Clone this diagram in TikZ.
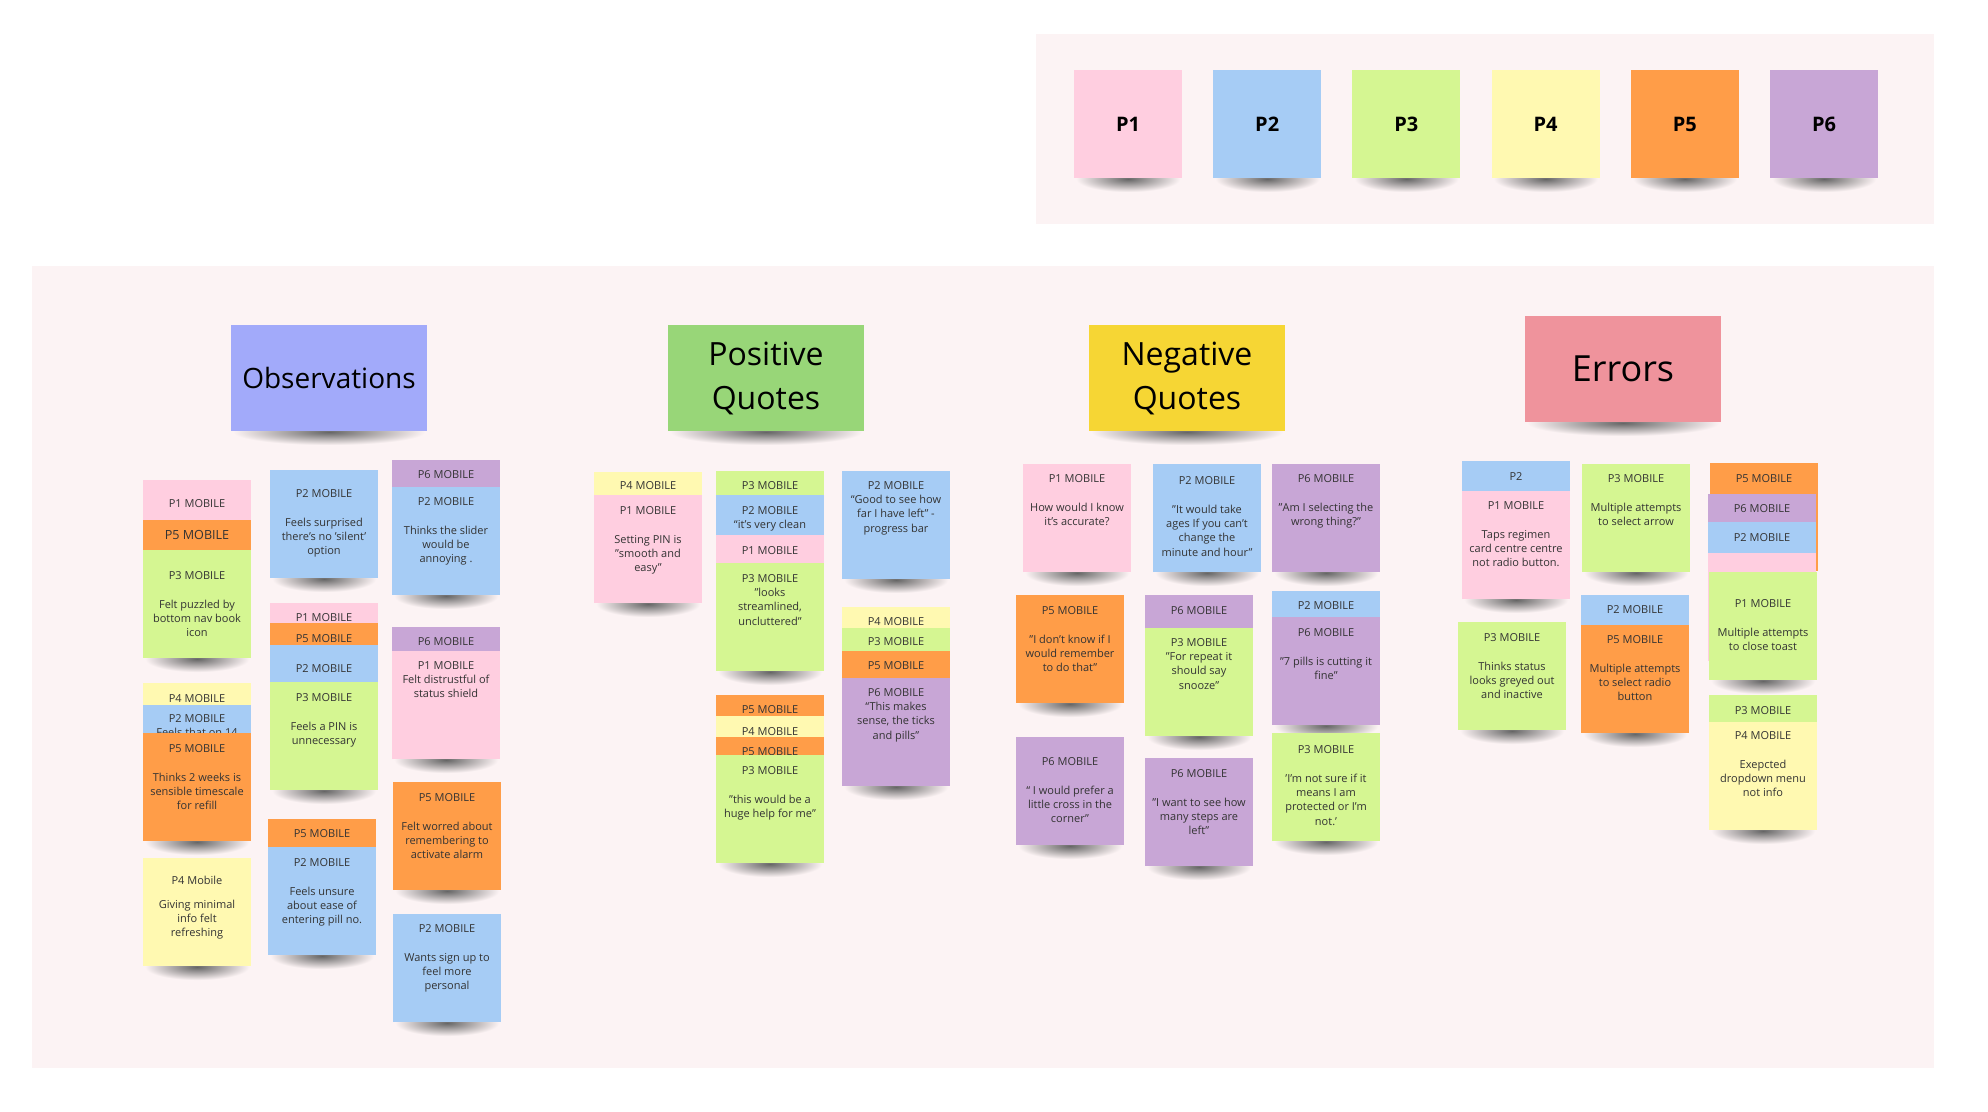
\documentclass[tikz,border=0pt]{standalone}
\usepackage{fontspec}
\setmainfont{Open Sans}
\usetikzlibrary{calc}

\definecolor{panel}{RGB}{252,243,244}
\definecolor{pnk}{RGB}{255,206,224}
\definecolor{blu}{RGB}{166,204,245}
\definecolor{grn}{RGB}{213,246,146}
\definecolor{ylw}{RGB}{255,249,177}
\definecolor{org}{RGB}{255,157,72}
\definecolor{vio}{RGB}{200,166,214}
\definecolor{hobs}{RGB}{162,170,250}
\definecolor{hpos}{RGB}{152,214,120}
\definecolor{hneg}{RGB}{246,214,52}
\definecolor{herr}{RGB}{239,147,156}
\definecolor{ink}{RGB}{51,51,51}

\pgfdeclarelayer{panels}
\pgfdeclarelayer{shadows}
\pgfsetlayers{panels,shadows,main}

% soft shadow tucked under the bottom edge of a note
\newcommand\undershadow[1]{%
  \begin{pgfonlayer}{shadows}
    \shade[inner color=black!60, outer color=panel]
      ([xshift=1pt,yshift=6pt]#1.south west) rectangle ([xshift=-1pt,yshift=-7pt]#1.south east);
  \end{pgfonlayer}}

\begin{document}
\begin{tikzpicture}[
  x=0.5pt, y=-0.5pt,
  font=\fontsize{5.5}{7.15}\selectfont,
  sticky/.style={fill=#1, anchor=north west, inner sep=0pt, outer sep=0pt,
    minimum width=54pt, minimum height=54pt},
  header/.style={sticky=#1, minimum width=98pt, minimum height=53pt,
    text=black, align=center},
  txt/.style={anchor=north, inner sep=0pt, align=center, text=ink},
  bigtxt/.style={txt, font=\fontsize{6.3}{8}\selectfont},
  panelbox/.style={fill=panel, anchor=north west, inner sep=0pt}
]

% ── Panels ─────────────────────────────────────────────────────────────────
\begin{pgfonlayer}{panels}
\useasboundingbox[fill=white] (0,0) rectangle (1988,1112);
\node[panelbox, minimum width=449pt, minimum height=95pt]  (legend) at (1036,34)  {};
\node[panelbox, minimum width=951pt, minimum height=401pt] (board)  at (32,266)   {};
\end{pgfonlayer}

% ── Participant legend ─────────────────────────────────────────────────────
\foreach \i/\col in {1/pnk,2/blu,3/grn,4/ylw,5/org,6/vio}{
  \node[sticky=\col, text=black, font=\bfseries\fontsize{10}{12}\selectfont]
    (leg\i) at ({1074+139.2*(\i-1)},70) {P\i};
  \undershadow{leg\i}
}

% ── Column headers ─────────────────────────────────────────────────────────
\node[header=hobs, font=\fontsize{14}{22}\selectfont] (obs) at (231,325)  {Observations};
\node[header=hpos, font=\fontsize{16}{22}\selectfont] (pos) at (668,325)  {Positive\\Quotes};
\node[header=hneg, font=\fontsize{16}{22}\selectfont] (neg) at (1089,325) {Negative\\Quotes};
\node[header=herr, font=\fontsize{18}{22}\selectfont] (err) at (1525,316) {Errors};
\undershadow{obs} \undershadow{pos} \undershadow{neg} \undershadow{err}

% ── Observations ───────────────────────────────────────────────────────────
\node[sticky=pnk] (o1a) at (143,480) {};
\node[txt] (o1a-txt) at (197,499) {P1 MOBILE};
\node[sticky=org] (o1b) at (143,520) {};
\node[bigtxt] (o1b-txt) at (197,530) {P5 MOBILE};
\node[sticky=grn] (o1c) at (143,550) {};
\node[txt] (o1c-txt) at (197,571) {P3 MOBILE\\[7.3pt]Felt puzzled by\\bottom nav book\\icon};
\undershadow{o1c}

\node[sticky=ylw] (o2a) at (143,683) {};
\node[txt] (o2a-txt) at (197,694) {P4 MOBILE};
\node[sticky=blu] (o2b) at (143,705) {};
\node[txt] (o2b-txt) at (197,714) {P2 MOBILE\\Feels that on 14};
\node[sticky=org] (o2c) at (143,733) {};
\node[txt] (o2c-txt) at (197,744) {P5 MOBILE\\[7.3pt]Thinks 2 weeks is\\sensible timescale\\for refill};
\undershadow{o2c}

\node[sticky=ylw] (o3) at (143,858) {};
\node[txt] (o3-txt) at (197,876) {P4 Mobile\\[4.5pt]Giving minimal\\info felt\\refreshing};
\undershadow{o3}

\node[sticky=blu] (o4) at (270,470) {};
\node[txt] (o4-txt) at (324,489) {P2 MOBILE\\[7.3pt]Feels surprised\\there's no 'silent'\\option};
\undershadow{o4}

\node[sticky=pnk] (o5a) at (270,603) {};
\node[txt] (o5a-txt) at (324,613) {P1 MOBILE};
\node[sticky=org] (o5b) at (270,623) {};
\node[txt] (o5b-txt) at (324,634) {P5 MOBILE};
\node[sticky=blu] (o5c) at (270,645) {};
\node[txt] (o5c-txt) at (324,664) {P2 MOBILE};
\node[sticky=grn] (o5d) at (270,682) {};
\node[txt] (o5d-txt) at (324,693) {P3 MOBILE\\[7.3pt]Feels a PIN is\\unnecessary};
\undershadow{o5d}

\node[sticky=org] (o6a) at (268,819) {};
\node[txt] (o6a-txt) at (322,829) {P5 MOBILE};
\node[sticky=blu] (o6b) at (268,847) {};
\node[txt] (o6b-txt) at (322,858) {P2 MOBILE\\[7.3pt]Feels unsure\\about ease of\\entering pill no.};
\undershadow{o6b}

\node[sticky=vio] (o7a) at (392,460) {};
\node[txt] (o7a-txt) at (446,470) {P6 MOBILE};
\node[sticky=blu] (o7b) at (392,487) {};
\node[txt] (o7b-txt) at (446,497) {P2 MOBILE\\[7.3pt]Thinks the slider\\would be\\annoying .};
\undershadow{o7b}

\node[sticky=vio] (o8a) at (392,627) {};
\node[txt] (o8a-txt) at (446,637) {P6 MOBILE};
\node[sticky=pnk] (o8b) at (392,651) {};
\node[txt] (o8b-txt) at (446,661) {P1 MOBILE\\Felt distrustful of\\status shield};
\undershadow{o8b}

\node[sticky=org] (o9) at (393,782) {};
\node[txt] (o9-txt) at (447,793) {P5 MOBILE\\[7.3pt]Felt worred about\\remembering to\\activate alarm};
\undershadow{o9}

\node[sticky=blu] (o10) at (393,914) {};
\node[txt] (o10-txt) at (447,924) {P2 MOBILE\\[7.3pt]Wants sign up to\\feel more\\personal};
\undershadow{o10}

% ── Positive quotes ────────────────────────────────────────────────────────
\node[sticky=ylw] (q1a) at (594,472) {};
\node[txt] (q1a-txt) at (648,481) {P4 MOBILE};
\node[sticky=pnk] (q1b) at (594,495) {};
\node[txt] (q1b-txt) at (648,506) {P1 MOBILE\\[7.3pt]Setting PIN is\\"smooth and\\easy”};
\undershadow{q1b}

\node[sticky=grn] (q2a) at (716,471) {};
\node[txt] (q2a-txt) at (770,481) {P3 MOBILE};
\node[sticky=blu] (q2b) at (716,495) {};
\node[txt] (q2b-txt) at (770,506) {P2 MOBILE\\“it's very clean};
\node[sticky=pnk] (q2c) at (716,535) {};
\node[txt] (q2c-txt) at (770,546) {P1 MOBILE};
\node[sticky=grn] (q2d) at (716,563) {};
\node[txt] (q2d-txt) at (770,574) {P3 MOBILE\\"looks\\streamlined,\\uncluttered"};
\undershadow{q2d}

\node[sticky=blu] (q3) at (842,471) {};
\node[txt] (q3-txt) at (896,481) {P2 MOBILE\\“Good to see how\\far I have left" -\\progress bar};
\undershadow{q3}

\node[sticky=ylw] (q4a) at (842,607) {};
\node[txt] (q4a-txt) at (896,617) {P4 MOBILE};
\node[sticky=grn] (q4b) at (842,628) {};
\node[txt] (q4b-txt) at (896,637) {P3 MOBILE};
\node[sticky=org] (q4c) at (842,651) {};
\node[txt] (q4c-txt) at (896,661) {P5 MOBILE};
\node[sticky=vio] (q4d) at (842,678) {};
\node[txt] (q4d-txt) at (896,688) {P6 MOBILE\\“This makes\\sense, the ticks\\and pills”};
\undershadow{q4d}

\node[sticky=org] (q5a) at (716,695) {};
\node[txt] (q5a-txt) at (770,705) {P5 MOBILE};
\node[sticky=ylw] (q5b) at (716,716) {};
\node[txt] (q5b-txt) at (770,727) {P4 MOBILE};
\node[sticky=org] (q5c) at (716,737) {};
\node[txt] (q5c-txt) at (770,747) {P5 MOBILE};
\node[sticky=grn] (q5d) at (716,755) {};
\node[txt] (q5d-txt) at (770,766) {P3 MOBILE\\[7.3pt]"this would be a\\huge help for me"};
\undershadow{q5d}

% ── Negative quotes ────────────────────────────────────────────────────────
\node[sticky=pnk] (n1) at (1023,464) {};
\node[txt] (n1-txt) at (1077,474) {P1 MOBILE\\[7.3pt]How would I know\\it's accurate?};
\undershadow{n1}

\node[sticky=blu] (n2) at (1153,464) {};
\node[txt] (n2-txt) at (1207,476) {P2 MOBILE\\[7.3pt]"It would take\\ages If you can't\\change the\\minute and hour"};
\undershadow{n2}

\node[sticky=vio] (n3) at (1272,464) {};
\node[txt] (n3-txt) at (1326,474) {P6 MOBILE\\[7.3pt]"Am I selecting the\\wrong thing?"};
\undershadow{n3}

\node[sticky=org] (n4) at (1016,595) {};
\node[txt] (n4-txt) at (1070,606) {P5 MOBILE\\[7.3pt]"I don't know if I\\would remember\\to do that"};
\undershadow{n4}

\node[sticky=vio] (n5a) at (1145,595) {};
\node[txt] (n5a-txt) at (1199,606) {P6 MOBILE};
\node[sticky=grn] (n5b) at (1145,628) {};
\node[txt] (n5b-txt) at (1199,638) {P3 MOBILE\\"For repeat it\\should say\\snooze"};
\undershadow{n5b}

\node[sticky=blu] (n6a) at (1272,591) {};
\node[txt] (n6a-txt) at (1326,601) {P2 MOBILE};
\node[sticky=vio] (n6b) at (1272,617) {};
\node[txt] (n6b-txt) at (1326,628) {P6 MOBILE\\[7.3pt]"7 pills is cutting it\\fine"};
\undershadow{n6b}

\node[sticky=vio] (n7) at (1016,737) {};
\node[txt] (n7-txt) at (1070,757) {P6 MOBILE\\[7.3pt]“ I would prefer a\\little cross in the\\corner"};
\undershadow{n7}

\node[sticky=vio] (n8) at (1145,758) {};
\node[txt] (n8-txt) at (1199,769) {P6 MOBILE\\[7.3pt]"I want to see how\\many steps are\\left"};
\undershadow{n8}

\node[sticky=grn] (n9) at (1272,733) {};
\node[txt] (n9-txt) at (1326,745) {P3 MOBILE\\[7.3pt]'I'm not sure if it\\means I am\\protected or I'm\\not.'};
\undershadow{n9}

% ── Errors ─────────────────────────────────────────────────────────────────
\node[sticky=blu] (e1a) at (1462,461) {};
\node[txt] (e1a-txt) at (1516,472) {P2};
\node[sticky=pnk] (e1b) at (1462,491) {};
\node[txt] (e1b-txt) at (1516,501) {P1 MOBILE\\[7.3pt]Taps regimen\\card centre centre\\not radio button.};
\undershadow{e1b}

\node[sticky=grn] (e2) at (1582,464) {};
\node[txt] (e2-txt) at (1636,474) {P3 MOBILE\\[7.3pt]Multiple attempts\\to select arrow};
\undershadow{e2}

\node[sticky=grn] (e3) at (1458,622) {};
\node[txt] (e3-txt) at (1512,633) {P3 MOBILE\\[7.3pt]Thinks status\\looks greyed out\\and inactive};
\undershadow{e3}

\node[sticky=blu] (e4a) at (1581,595) {};
\node[txt] (e4a-txt) at (1635,605) {P2 MOBILE};
\node[sticky=org] (e4b) at (1581,625) {};
\node[txt] (e4b-txt) at (1635,635) {P5 MOBILE\\[7.3pt]Multiple attempts\\to select radio\\button};
\undershadow{e4b}

\node[sticky=org] (e5a) at (1710,463) {};
\node[txt] (e5a-txt) at (1764,474) {P5 MOBILE};
\node[sticky=vio] (e5b) at (1708,494) {};
\node[txt] (e5b-txt) at (1762,504) {P6 MOBILE};
\node[sticky=blu] (e5c) at (1708,522) {};
\node[txt] (e5c-txt) at (1762,533) {P2 MOBILE};
\node[sticky=pnk] (e5d) at (1708,553) {};
\node[sticky=grn] (e5e) at (1709,572) {};
\node[txt] (e5e-txt) at (1763,599) {P1 MOBILE\\[7.3pt]Multiple attempts\\to close toast};
\undershadow{e5e}

\node[sticky=grn] (e6a) at (1709,695) {};
\node[txt] (e6a-txt) at (1763,706) {P3 MOBILE};
\node[sticky=ylw] (e6b) at (1709,722) {};
\node[txt] (e6b-txt) at (1763,731) {P4 MOBILE\\[7.3pt]Exepcted\\dropdown menu\\not info};
\undershadow{e6b}

\end{tikzpicture}
\end{document}
